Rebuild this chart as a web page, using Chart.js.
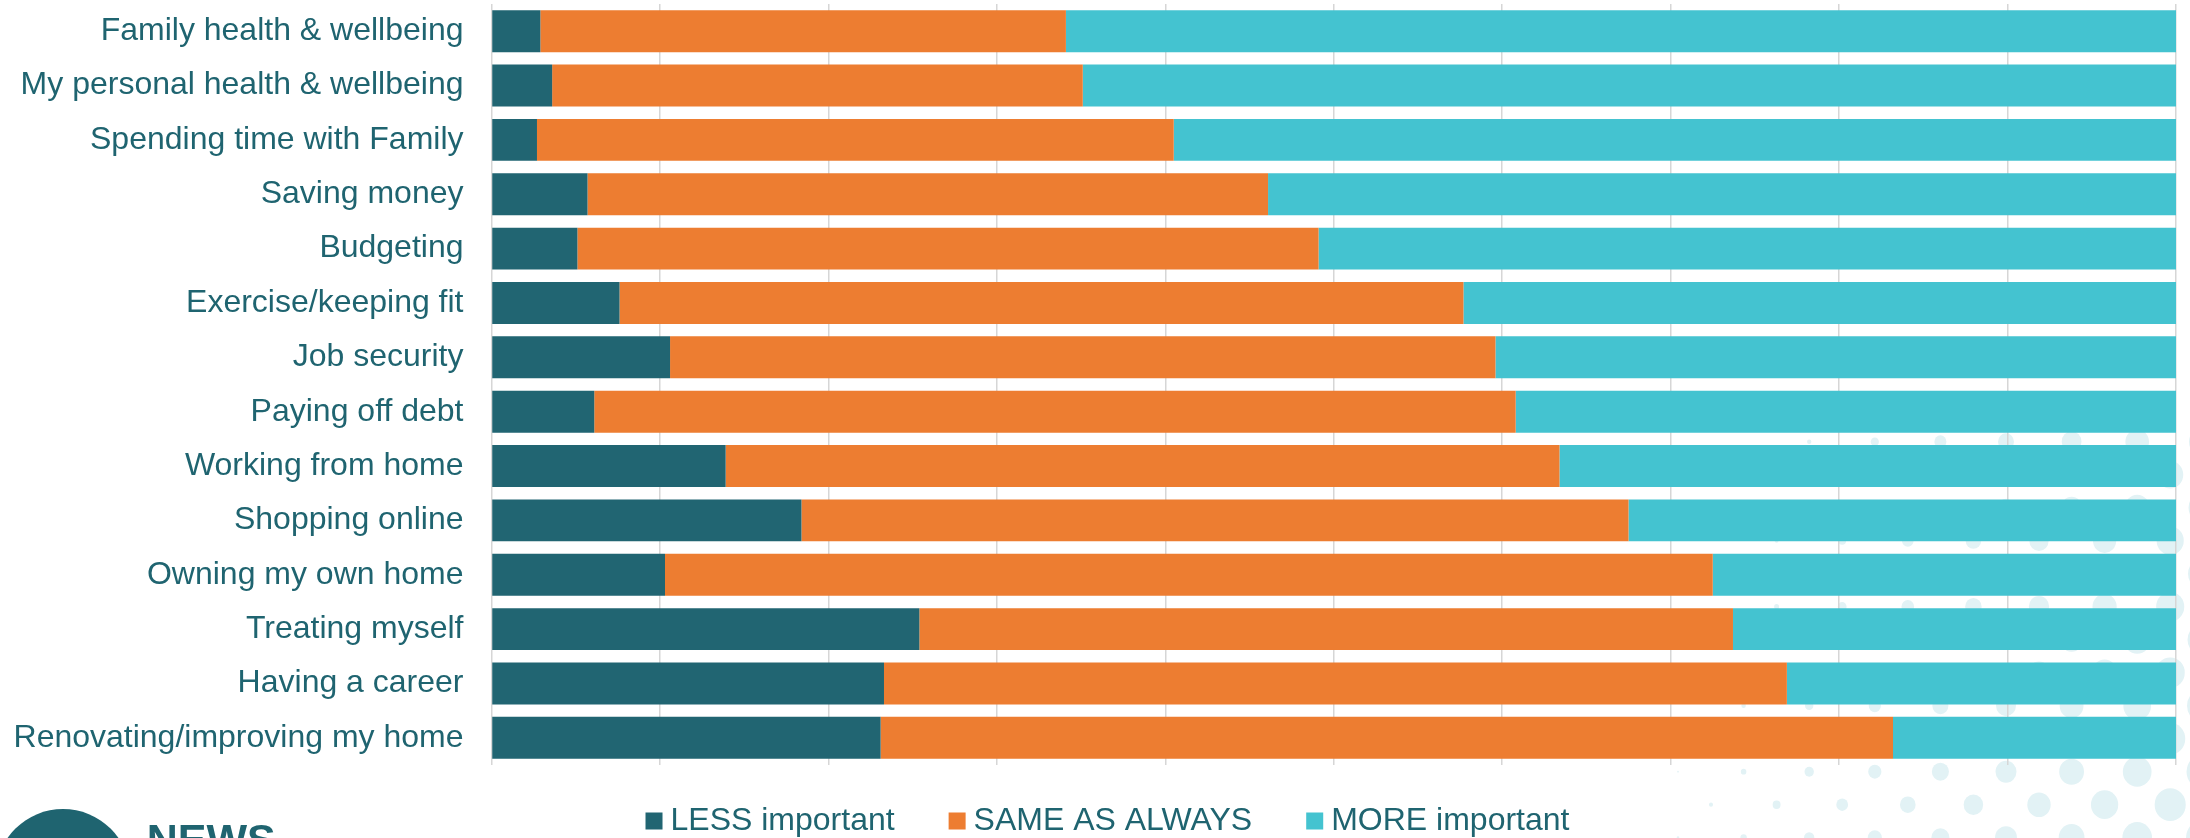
<!DOCTYPE html>
<html>
<head>
<meta charset="utf-8">
<script src="https://cdn.jsdelivr.net/npm/chart.js@4.4.1/dist/chart.umd.min.js"></script>
<style>
  html, body { margin: 0; padding: 0; background: #ffffff; }
  #wrap { width: 2190px; height: 838px; position: relative; overflow: hidden; }
  canvas { display: block; }
</style>
</head>
<body>
<div id="wrap"><canvas id="chart" width="2190" height="838"></canvas></div>
<script>
// ---- Data ----
const categories = [
  'Family health & wellbeing',
  'My personal health & wellbeing',
  'Spending time with Family',
  'Saving money',
  'Budgeting',
  'Exercise/keeping fit',
  'Job security',
  'Paying off debt',
  'Working from home',
  'Shopping online',
  'Owning my own home',
  'Treating myself',
  'Having a career',
  'Renovating/improving my home'
];
const lessImportant = [2.9, 3.6, 2.7, 5.7, 5.1, 7.6, 10.6, 6.1, 13.9, 18.4, 10.3, 25.4, 23.3, 23.1];
const sameAsAlways  = [31.2, 31.5, 37.8, 40.4, 44.0, 50.1, 49.0, 54.7, 49.5, 49.1, 62.2, 48.3, 53.6, 60.1];
const moreImportant = [65.9, 64.9, 59.5, 53.9, 50.9, 42.3, 40.4, 39.2, 36.6, 32.5, 27.5, 26.3, 23.1, 16.8];
const seriesLabels  = ['LESS important', 'SAME AS ALWAYS', 'MORE important'];
const xTickValues   = [0, 10, 20, 30, 40, 50, 60, 70, 80, 90, 100];

// ---- Styles ----
const TEXT_COLOR = '#1F6470';
const COLORS = ['#216572', '#ED7D31', '#44C3D0'];
const FONT = '"Liberation Sans", Arial, sans-serif';

// Decorative halftone dots (bottom-right background)
const dotsPlugin = {
  id: 'dots',
  beforeDraw(chart) {
    const ctx = chart.ctx;
    ctx.save();
    ctx.fillStyle = '#E2F2F5';
    for (let k = 0; k < 13; k++) {
      const y = 837.7 - 33 * k;
      const x0 = (k % 2 === 0) ? 1678 : 1711;
      for (let x = x0; x < 2230; x += 65.6) {
        const r = 0.031 * (x - 1660) - 0.008 * (771.7 - y) + 0.3;
        if (r < 0.6) continue;
        ctx.beginPath();
        ctx.ellipse(x, y, r * 0.95, r, 0, 0, Math.PI * 2);
        ctx.fill();
      }
    }
    ctx.restore();
  }
};

// Legend drawn from dataset labels / colors
const legendPlugin = {
  id: 'customLegend',
  afterDraw(chart) {
    const ctx = chart.ctx;
    ctx.save();
    ctx.font = '32px ' + FONT;
    ctx.textBaseline = 'alphabetic';
    ctx.textAlign = 'left';
    const box = 17, gapText = 8, gapItem = 54;
    const items = chart.data.datasets.map(ds => ({ text: ds.label, color: ds.backgroundColor, w: ctx.measureText(ds.label).width }));
    let total = 0;
    items.forEach((it, i) => { total += box + gapText + it.w + (i < items.length - 1 ? gapItem : 0); });
    let x = 1107.5 - total / 2;
    const baseline = 829.5;
    items.forEach(it => {
      ctx.fillStyle = it.color;
      ctx.fillRect(x, 812.5, box, box);
      ctx.fillStyle = TEXT_COLOR;
      ctx.fillText(it.text, x + box + gapText, baseline);
      x += box + gapText + it.w + gapItem;
    });
    ctx.restore();
  }
};

// Partial logo at bottom left
const logoPlugin = {
  id: 'logo',
  afterDraw(chart) {
    const ctx = chart.ctx;
    ctx.save();
    ctx.fillStyle = '#1F6470';
    ctx.beginPath();
    ctx.arc(63, 876.6, 67.6, 0, Math.PI * 2);
    ctx.fill();
    ctx.font = 'bold 43px ' + FONT;
    ctx.textBaseline = 'alphabetic';
    ctx.fillText('NEWS', 146.7, 854);
    ctx.restore();
  }
};

const datasets = [lessImportant, sameAsAlways, moreImportant].map((vals, i) => ({
  label: seriesLabels[i],
  data: vals,
  backgroundColor: COLORS[i],
  borderWidth: 0,
  barPercentage: 0.772,
  categoryPercentage: 1.0
}));

new Chart(document.getElementById('chart'), {
  type: 'bar',
  data: { labels: categories, datasets },
  options: {
    indexAxis: 'y',
    responsive: false,
    animation: false,
    layout: { padding: { top: 4, right: 14, bottom: 73, left: 0 } },
    plugins: {
      legend: { display: false },
      tooltip: { enabled: false }
    },
    scales: {
      x: {
        stacked: true,
        min: 0,
        max: 100,
        afterBuildTicks(scale) { scale.ticks = xTickValues.map(v => ({ value: v })); },
        ticks: { display: false },
        grid: { color: '#D6D6D6', lineWidth: 1.5, drawTicks: false },
        border: { display: false },
        afterFit(scale) { scale.height = 0; scale.paddingLeft = 0; scale.paddingRight = 0; }
      },
      y: {
        stacked: true,
        ticks: {
          color: TEXT_COLOR,
          font: { family: FONT, size: 32 },
          padding: 28,
          autoSkip: false
        },
        grid: { display: false, drawTicks: false },
        border: { display: false },
        afterFit(scale) { scale.width = 491.5; scale.paddingTop = 0; scale.paddingBottom = 0; }
      }
    }
  },
  plugins: [dotsPlugin, legendPlugin, logoPlugin]
});
</script>
</body>
</html>
